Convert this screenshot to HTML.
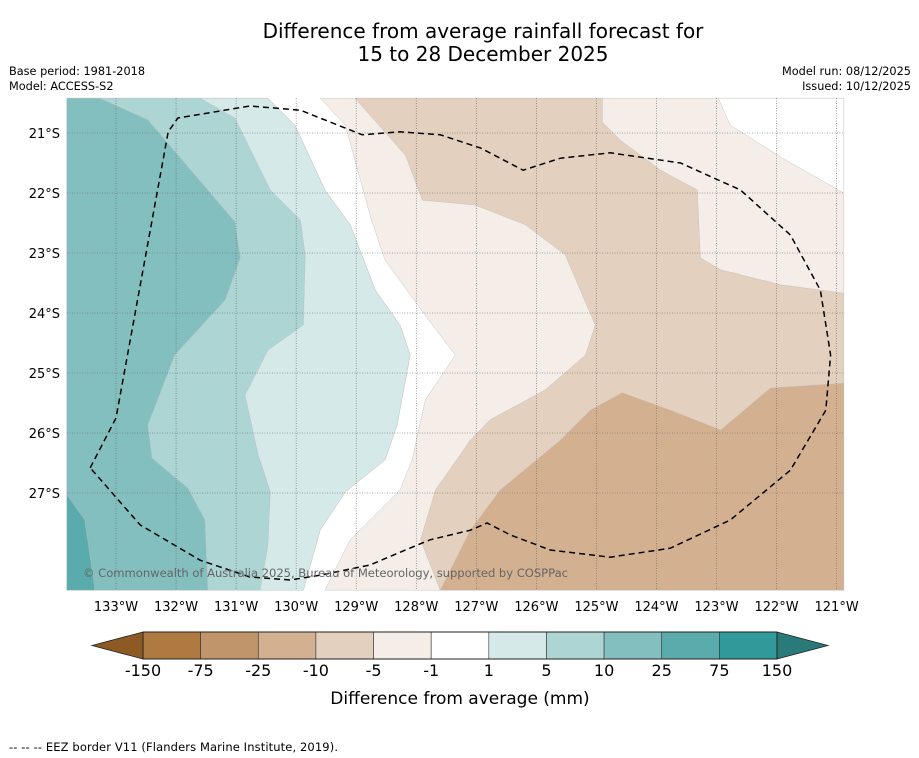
<!DOCTYPE html>
<html><head><meta charset="utf-8"><style>
body{margin:0;background:#fff;width:919px;height:758px;overflow:hidden;font-family:"DejaVu Sans","Liberation Sans",sans-serif;}
svg{position:absolute;left:0;top:0}
</style></head><body>
<svg id="c" width="919" height="758" xmlns="http://www.w3.org/2000/svg">
<text x="483" y="38" font-size="20" text-anchor="middle">Difference from average rainfall forecast for</text>
<text x="483" y="61" font-size="20" text-anchor="middle">15 to 28 December 2025</text>
<text x="9" y="75" font-size="11.3">Base period: 1981-2018</text>
<text x="9" y="90" font-size="11.3">Model: ACCESS-S2</text>
<text x="911" y="75" font-size="11.3" text-anchor="end">Model run: 08/12/2025</text>
<text x="911" y="90" font-size="11.3" text-anchor="end">Issued: 10/12/2025</text>
<g id="map"></g>
<g id="cbar"></g>
<text x="460" y="704" font-size="17" text-anchor="middle">Difference from average (mm)</text>
<text x="9" y="751" font-size="11.5" textLength="329">--  --  -- EEZ border V11 (Flanders Marine Institute, 2019).</text>
</svg>
<script>
const lonTicks=[-133,-132,-131,-130,-129,-128,-127,-126,-125,-124,-123,-122,-121];
const latTicks=[-21,-22,-23,-24,-25,-26,-27];
const levelLabels=["-150","-75","-25","-10","-5","-1","1","5","10","25","75","150"];
const levelColors=["#af7a41","#c0956b","#d3b090","#e3d0bf","#f4ede8","#ffffff","#d5e9e8","#acd5d4","#84bfbf","#5aabab","#32999a"];
const teal25=[[-133.82,-27.03],[-133.52,-27.45],[-133.35,-28.62],[-133.82,-28.62]];
const teal10=[[-133.82,-20.42],[-133.27,-20.42],[-132.47,-20.78],[-131.02,-22.48],[-130.93,-23.08],[-131.18,-23.78],[-132.02,-24.7],[-132.47,-25.87],[-132.4,-26.42],[-131.8,-26.92],[-131.52,-27.45],[-131.47,-28.62],[-133.82,-28.62]];
const teal5=[[-133.82,-20.42],[-131.6,-20.42],[-131.02,-20.75],[-130.43,-21.95],[-129.93,-22.45],[-129.85,-23.03],[-129.88,-24.2],[-130.47,-24.62],[-130.85,-25.37],[-130.63,-26.37],[-130.43,-26.98],[-130.47,-27.87],[-130.6,-28.62],[-133.82,-28.62]];
const teal1=[[-133.82,-20.42],[-130.47,-20.42],[-130.02,-20.87],[-129.52,-21.95],[-129.1,-22.53],[-128.68,-23.62],[-128.27,-24.2],[-128.1,-24.7],[-128.32,-25.87],[-128.52,-26.45],[-129.18,-26.98],[-129.6,-27.62],[-129.88,-28.62],[-133.82,-28.62]];
const brown1=[[-129.6,-20.42],[-129.18,-20.87],[-128.77,-22.37],[-128.52,-23.12],[-127.77,-24.15],[-127.35,-24.7],[-127.85,-25.45],[-128.07,-26.45],[-128.27,-26.95],[-129.1,-27.78],[-129.52,-28.62],[-120.88,-28.62],[-120.88,-20.42]];
const whiteCorner=[[-122.97,-20.42],[-122.77,-20.87],[-121.85,-21.45],[-120.88,-22.0],[-120.88,-20.42]];
const brown5=[[-129.02,-20.42],[-128.18,-21.37],[-127.9,-22.12],[-127.02,-22.2],[-126.18,-22.53],[-125.52,-23.03],[-125.02,-24.2],[-125.18,-24.7],[-125.85,-25.28],[-126.77,-25.78],[-127.1,-26.12],[-127.68,-26.95],[-127.93,-27.78],[-127.6,-28.62],[-120.88,-28.62],[-120.88,-23.67],[-121.93,-23.53],[-122.93,-23.28],[-123.27,-23.08],[-123.32,-21.95],[-123.93,-21.62],[-124.6,-21.12],[-124.9,-20.82],[-124.9,-20.42]];
const brown10=[[-127.6,-28.62],[-127.1,-27.62],[-126.6,-26.95],[-125.6,-26.12],[-125.1,-25.62],[-124.57,-25.33],[-123.77,-25.62],[-122.93,-25.95],[-122.1,-25.25],[-120.88,-25.17],[-120.88,-28.62]];
const eez=[[-133.43,-26.58],[-133,-25.75],[-132.13,-20.98],[-131.97,-20.75],[-130.77,-20.55],[-129.93,-20.62],[-128.9,-21.03],[-128.27,-20.98],[-127.6,-21.03],[-126.93,-21.25],[-126.22,-21.62],[-125.6,-21.42],[-124.77,-21.33],[-123.6,-21.5],[-122.6,-21.95],[-121.77,-22.7],[-121.27,-23.62],[-121.1,-24.7],[-121.18,-25.62],[-121.77,-26.62],[-122.77,-27.45],[-123.77,-27.92],[-124.77,-28.07],[-125.77,-27.95],[-126.43,-27.7],[-126.82,-27.5],[-127.1,-27.62],[-127.77,-27.78],[-128.18,-27.95],[-128.77,-28.2],[-129.6,-28.37],[-130.1,-28.45],[-130.77,-28.4],[-131.6,-28.12],[-132.6,-27.53],[-133.43,-26.58]];

const NS="http://www.w3.org/2000/svg";
const X0=67,X1=843,Y0=98,Y1=590;
function xs(lon){return 116+(lon+133)*60.05;}
function ys(lat){return 133+(-21-lat)*60;}
function mk(tag,attrs,parent){const e=document.createElementNS(NS,tag);for(const k in attrs)e.setAttribute(k,attrs[k]);parent.appendChild(e);return e;}
const map=document.getElementById('map');
mk('rect',{x:X0,y:Y0,width:X1-X0,height:Y1-Y0,fill:'#fff'},map);
const layers=[[teal1,levelColors[5],'region-minus1-to-1'],[brown1,levelColors[4],'region-minus5-to-minus1'],[whiteCorner,levelColors[5],'region-white-corner'],[brown5,levelColors[3],'region-minus10-to-minus5'],[brown10,levelColors[2],'region-minus25-to-minus10'],[teal1,levelColors[6],'region-1-to-5'],[teal5,levelColors[7],'region-5-to-10'],[teal10,levelColors[8],'region-10-to-25'],[teal25,levelColors[9],'region-25-to-75']];
layers.forEach(([pts,col,name])=>{
  const p=mk('polygon',{points:pts.map(q=>xs(q[0]).toFixed(1)+','+ys(q[1]).toFixed(1)).join(' '),fill:col,stroke:'#bdbdbd','stroke-width':0.4},map);
  
  
});
lonTicks.forEach(l=>{
  const x=xs(l);
  if(x<X1){const g=mk('line',{x1:x,y1:Y0,x2:x,y2:Y1,stroke:'#666','stroke-width':0.6,'stroke-dasharray':'1,1.5'},map);
  
  }
  const t=mk('text',{x:x,y:611,'font-size':13,'text-anchor':'middle'},map);t.textContent=Math.abs(l)+'°W';
  
  
});
latTicks.forEach(l=>{
  const y=ys(l);
  const g=mk('line',{x1:X0,y1:y,x2:X1,y2:y,stroke:'#666','stroke-width':0.6,'stroke-dasharray':'1,1.5'},map);
  
  
  const t=mk('text',{x:60,y:y+5,'font-size':13,'text-anchor':'end'},map);t.textContent=Math.abs(l)+'°S';
  
  
});
const ez=mk('polyline',{points:eez.map(q=>xs(q[0]).toFixed(1)+','+ys(q[1]).toFixed(1)).join(' '),fill:'none',stroke:'#000','stroke-width':1.5,'stroke-dasharray':'6,4'},map);


const cp=mk('text',{x:83,y:577,'font-size':11.6,fill:'#666',textLength:485},map);cp.textContent='© Commonwealth of Australia 2025, Bureau of Meteorology, supported by COSPPac';



const cb=document.getElementById('cbar');
const cx0=143,cx1=777,cy0=632,cy1=659,w=(cx1-cx0)/levelColors.length;
const lt=mk('polygon',{points:`${cx0},${cy0} ${cx0},${cy1} 92,${(cy0+cy1)/2}`,fill:'#8e5a24',stroke:'#222','stroke-width':0.8},cb);


const rt=mk('polygon',{points:`${cx1},${cy0} ${cx1},${cy1} 828,${(cy0+cy1)/2}`,fill:'#2a7a7a',stroke:'#222','stroke-width':0.8},cb);


levelColors.forEach((c,i)=>{
  const r=mk('rect',{x:cx0+i*w,y:cy0,width:w,height:cy1-cy0,fill:c,stroke:'#333','stroke-width':0.6},cb);
  
  
});
mk('rect',{x:cx0,y:cy0,width:cx1-cx0,height:cy1-cy0,fill:'none',stroke:'#222','stroke-width':1},cb);
levelLabels.forEach((s,i)=>{
  const t=mk('text',{x:cx0+i*w,y:676,'font-size':16,'text-anchor':'middle'},cb);t.textContent=s;
  
  
});
</script>
</body></html>
